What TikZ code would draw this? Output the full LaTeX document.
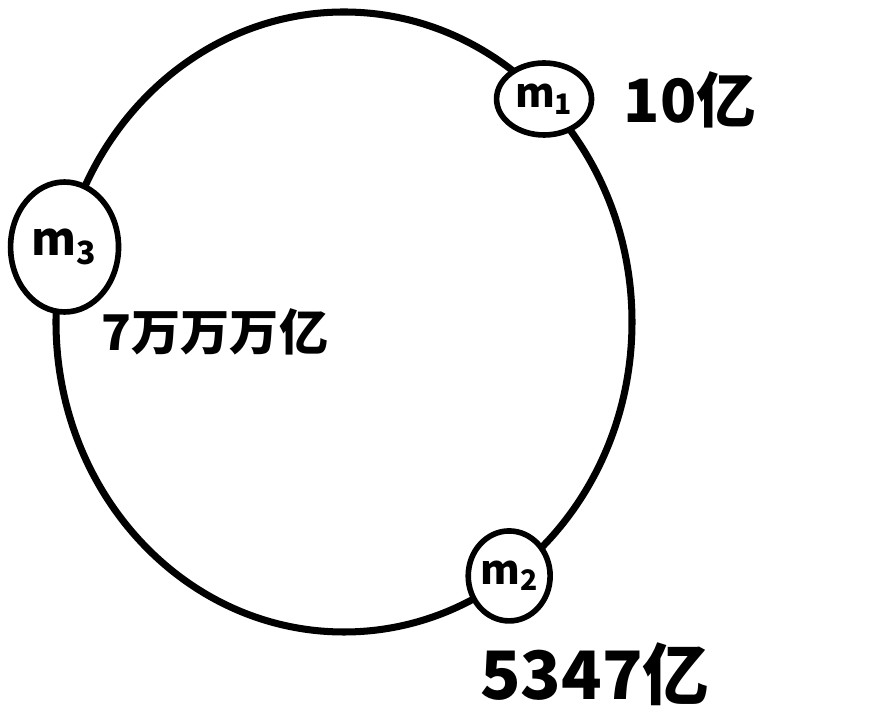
\documentclass[tikz,border=0pt]{standalone}
\usepackage{fontspec}
\setmainfont{Noto Sans CJK SC}
\usetikzlibrary{shapes.geometric}

\begin{document}
\begin{tikzpicture}[x=0.02cm,y=0.02cm]

  \useasboundingbox (-344,-400) rectangle (528,322);

  \draw[line width=4pt] (0,0) ellipse (288 and 310);

  \draw (46:288 and 310) node[draw,ellipse,line width=3.2pt,fill=white,minimum width=1.9cm,minimum height=1.44cm,inner sep=0pt,font=\bfseries\fontsize{23}{26}\selectfont] (m1) {m\textsubscript{1}};
\draw (-55:288 and 310) node[draw,ellipse,line width=3.2pt,fill=white,minimum width=1.46cm,minimum height=1.8cm,inner sep=0pt,font=\bfseries\fontsize{23}{26}\selectfont] (m2) {m\textsubscript{2}};
\draw (166:288 and 310) node[draw,ellipse,line width=3.2pt,fill=white,minimum width=2.16cm,minimum height=2.6cm,inner sep=0pt,font=\bfseries\fontsize{26}{30}\selectfont] (m3) {m\textsubscript{3}};

  \draw (346,222) node[font=\bfseries\fontsize{34}{38}\selectfont] (v1) {10亿};
  \draw (251,-352) node[font=\bfseries\fontsize{38}{42}\selectfont] (v2) {5347亿};
  \draw (-129,-10) node[font=\bfseries\fontsize{28}{32}\selectfont] (v3) {7万万万亿};

\end{tikzpicture}
\end{document}
